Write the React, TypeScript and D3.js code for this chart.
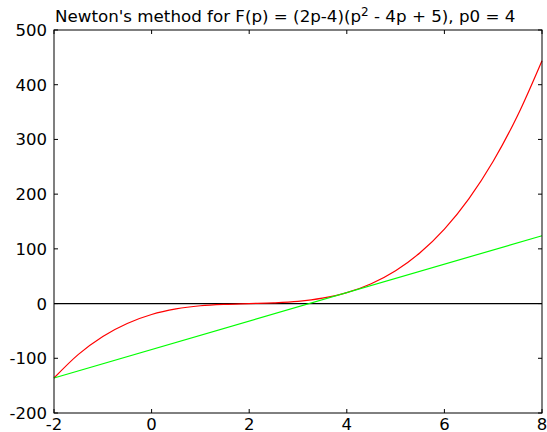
import React, { useEffect, useRef } from "react";
import * as d3 from "d3";

// F(p) at half steps
const pValues = [-2, -1.5, -1, -0.5, 0, 0.5, 1, 1.5, 2, 2.5, 3, 3.5, 4, 4.5, 5, 5.5, 6, 6.5, 7, 7.5, 8];
const fValues = [-136, -92.8, -60, -36.3, -20, -9.8, -4, -1.3, 0, 1.3, 4, 9.8, 20, 36.3, 60, 92.8, 136, 191.3, 260, 343.8, 444];
// tangent at p0 = 4
const tangentP = [-2, 8];
const tangentF = [-136, 124];
const xTicks = [-2, 0, 2, 4, 6, 8];
const yTicks = [-200, -100, 0, 100, 200, 300, 400, 500];

const W = 547;
const H = 432;
const margin = { left: 54, right: 5, top: 30, bottom: 19 };

export default function App() {
  const ref = useRef<SVGSVGElement>(null);

  useEffect(() => {
    const svg = d3.select(ref.current);
    svg.selectAll("*").remove();
    const font = "DejaVu Sans, sans-serif";

    const x = d3.scaleLinear().domain([-2, 8]).range([margin.left, W - margin.right]);
    const y = d3.scaleLinear().domain([-200, 500]).range([H - margin.bottom, margin.top]);

    const line = d3
      .line<[number, number]>()
      .x((d) => x(d[0]))
      .y((d) => y(d[1]));

    // zero line
    svg
      .append("path")
      .attr("d", line([[-2, 0], [8, 0]]))
      .attr("stroke", "#000")
      .attr("stroke-width", 1.2)
      .attr("fill", "none");

    svg
      .append("path")
      .attr("d", line.curve(d3.curveMonotoneX)(pValues.map((p, i) => [p, fValues[i]] as [number, number])))
      .attr("stroke", "#ff0000")
      .attr("stroke-width", 1.2)
      .attr("fill", "none");

    svg
      .append("path")
      .attr("d", line.curve(d3.curveLinear)(tangentP.map((p, i) => [p, tangentF[i]] as [number, number])))
      .attr("stroke", "#00ff00")
      .attr("stroke-width", 1.2)
      .attr("fill", "none");

    // frame
    svg
      .append("rect")
      .attr("x", x(-2))
      .attr("y", y(500))
      .attr("width", x(8) - x(-2))
      .attr("height", y(-200) - y(500))
      .attr("fill", "none")
      .attr("stroke", "#000");

    const tk = 4;
    xTicks.forEach((t) => {
      svg.append("line").attr("x1", x(t)).attr("x2", x(t)).attr("y1", y(-200)).attr("y2", y(-200) - tk).attr("stroke", "#000");
      svg.append("line").attr("x1", x(t)).attr("x2", x(t)).attr("y1", y(500)).attr("y2", y(500) + tk).attr("stroke", "#000");
      svg
        .append("text")
        .attr("x", x(t))
        .attr("y", y(-200) + 16.5)
        .attr("text-anchor", "middle")
        .attr("font-family", font)
        .attr("font-size", 16.5)
        .text(String(t));
    });
    yTicks.forEach((t) => {
      svg.append("line").attr("x1", x(-2)).attr("x2", x(-2) + tk).attr("y1", y(t)).attr("y2", y(t)).attr("stroke", "#000");
      svg.append("line").attr("x1", x(8)).attr("x2", x(8) - tk).attr("y1", y(t)).attr("y2", y(t)).attr("stroke", "#000");
      svg
        .append("text")
        .attr("x", x(-2) - 7)
        .attr("y", y(t) + 6)
        .attr("text-anchor", "end")
        .attr("font-family", font)
        .attr("font-size", 16.5)
        .text(String(t));
    });

    const title = svg
      .append("text")
      .attr("x", x(-2) + 1)
      .attr("y", y(500) - 8)
      .attr("font-family", font)
      .attr("font-size", 16.7);
    title.append("tspan").text("Newton's method for F(p) = (2p-4)(p");
    title.append("tspan").attr("dy", -6).attr("font-size", 12).text("2");
    title.append("tspan").attr("dy", 6).text(" - 4p + 5), p0 = 4");
  }, []);

  return (
    <svg ref={ref} width={W} height={H} style={{ position: "absolute", left: 0, top: 0, background: "#fff" }} />
  );
}
